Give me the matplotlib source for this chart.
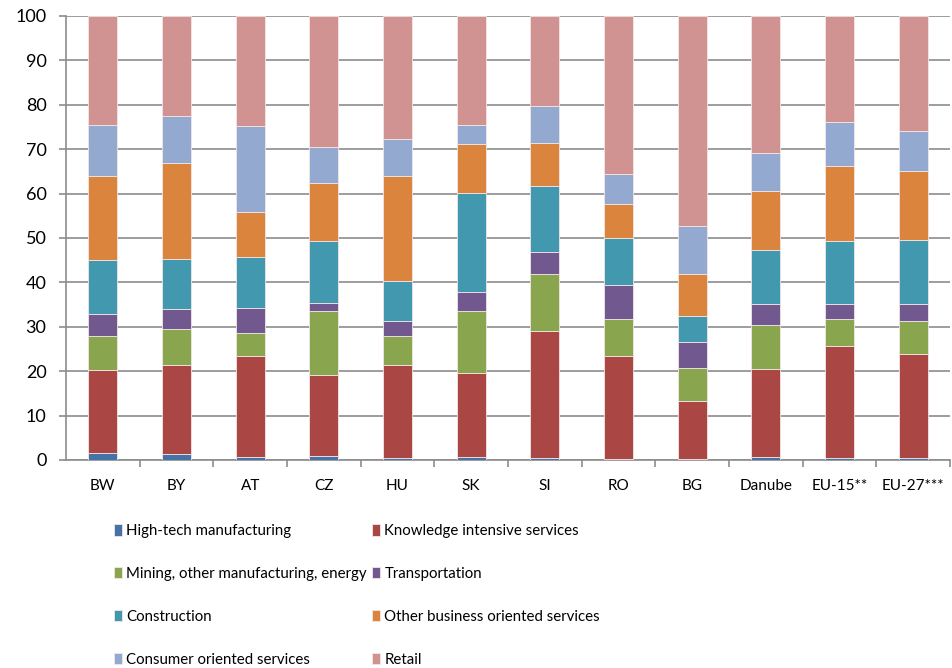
import matplotlib
matplotlib.use("Agg")
import matplotlib.pyplot as plt
import numpy as np

plt.rcParams['font.family'] = ['Lato', 'DejaVu Sans']

categories = ["BW", "BY", "AT", "CZ", "HU", "SK", "SI", "RO", "BG", "Danube", "EU-15**", "EU-27***"]
series_names = ["High-tech manufacturing", "Knowledge intensive services",
                "Mining, other manufacturing, energy", "Transportation",
                "Construction", "Other business oriented services",
                "Consumer oriented services", "Retail"]

high_tech     = [1.5, 1.4, 0.7, 0.8, 0.5, 0.6, 0.5, 0.3, 0.2, 0.6, 0.4, 0.4]
knowledge     = [18.7, 20.1, 22.7, 18.3, 21.0, 18.9, 28.6, 23.1, 13.2, 19.9, 25.3, 23.4]
mining        = [7.8, 7.9, 5.3, 14.4, 6.4, 14.0, 12.7, 8.4, 7.4, 9.9, 6.1, 7.4]
transport     = [4.8, 4.6, 5.6, 1.9, 3.3, 4.3, 5.0, 7.7, 5.7, 4.8, 3.3, 3.9]
construction  = [12.3, 11.3, 11.4, 13.9, 9.1, 22.3, 15.0, 10.4, 5.9, 12.2, 14.2, 14.4]
other_bus     = [18.9, 21.6, 10.2, 13.1, 23.7, 11.0, 9.6, 7.8, 9.5, 13.2, 17.0, 15.5]
consumer      = [11.5, 10.6, 19.3, 8.0, 8.4, 4.4, 8.4, 6.7, 10.7, 8.5, 9.9, 9.0]
retail        = [24.5, 22.5, 24.8, 29.6, 27.6, 24.5, 20.2, 35.6, 47.4, 30.9, 23.8, 26.0]

series = [high_tech, knowledge, mining, transport, construction, other_bus, consumer, retail]
colors = ["#4572A7", "#AA4643", "#89A54E", "#71588F", "#4198AF", "#DB843D", "#93A9CF", "#D19392"]

fig = plt.figure(figsize=(9.53, 6.68), dpi=100)
ax = fig.add_axes([66/953, 1-460/668, (950-66)/953, 444/668])

x = np.arange(len(categories))
bottom = np.zeros(len(categories))
handles = []
for vals, col, name in zip(series, colors, series_names):
    v = np.array(vals)
    b = ax.bar(x, v, width=0.39, bottom=bottom, color=col, edgecolor='#f2e6e6',
               linewidth=0.6, label=name, zorder=3)
    handles.append(b)
    bottom += v

ax.set_xlim(-0.5, len(categories) - 0.5)
ax.set_ylim(0, 100)
ax.set_yticks(np.arange(0, 101, 10))
ax.yaxis.grid(True, color='#8c8c8c', linewidth=1.2, zorder=0)
ax.set_axisbelow(True)

for s in ['top', 'right']:
    ax.spines[s].set_visible(False)
for s in ['left', 'bottom']:
    ax.spines[s].set_color('#8c8c8c')
    ax.spines[s].set_linewidth(1.2)

ax.set_xticks(x)
ax.set_xticklabels(categories, fontsize=11)
ax.tick_params(axis='x', which='major', length=0, pad=14)
ax.set_xticks(np.arange(0.5, len(categories) - 0.5 + 1, 1), minor=True)
ax.tick_params(axis='x', which='minor', length=5, color='#8c8c8c', width=1.2)
ax.tick_params(axis='y', length=5, color='#8c8c8c', width=1.2, labelsize=13, pad=9)

# legend as two columns, row-major order like the reference
legend_kw = dict(loc='upper left', frameon=False, fontsize=10.8,
                 handlelength=0.52, handleheight=0.8, handletextpad=0.3,
                 labelspacing=1.93, borderaxespad=0, borderpad=0)
col1 = [0, 2, 4, 6]
col2 = [1, 3, 5, 7]
leg1 = fig.legend([handles[i] for i in col1], [series_names[i] for i in col1],
                  bbox_to_anchor=(114/953, 1-524/668), **legend_kw)
leg2 = fig.legend([handles[i] for i in col2], [series_names[i] for i in col2],
                  bbox_to_anchor=(372/953, 1-524/668), **legend_kw)

fig.savefig("out.png", dpi=100)
